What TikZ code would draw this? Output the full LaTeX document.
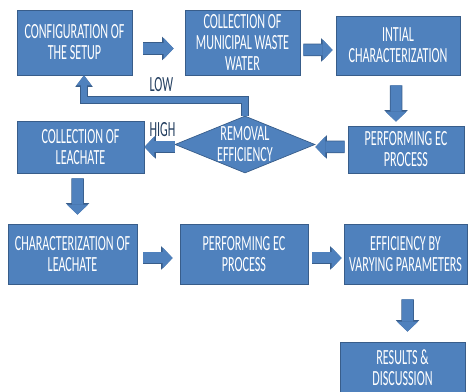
\documentclass[tikz,border=0pt]{standalone}
\usepackage{fontspec}
\newfontfamily\flowfont[FakeStretch=0.56]{Carlito}
\usetikzlibrary{arrows.meta, positioning, shapes.geometric}
\definecolor{boxfill}{HTML}{4F81BD}
\definecolor{boxedge}{HTML}{385D8A}
\definecolor{labeltext}{HTML}{243F60}

\begin{document}
\begin{tikzpicture}[thick, node distance=2cm]

		% Define block styles
		\tikzstyle{block} = [rectangle, draw=boxedge, line width=0.8pt, fill=boxfill, text=white, inner sep=1pt, align=center, font=\flowfont\fontsize{24.6pt}{23.8pt}\selectfont]
		\tikzstyle{decision} = [diamond, aspect=2.46, draw=boxedge, line width=0.8pt, fill=boxfill, text=white, inner sep=-2pt, align=center, minimum width=5.6cm, minimum height=2.28cm, font=\flowfont\fontsize{24.6pt}{23.8pt}\selectfont]
		\tikzstyle{flow} = [line width=0.44cm, draw=boxfill, -{Triangle[length=0.4cm, width=0.84cm, line width=0pt]}, preaction={draw=boxedge, line width=0.5cm, -{Triangle[length=0.46cm, width=0.94cm, line width=0pt]}}]
		\tikzstyle{backflow} = [line width=0.24cm, draw=boxfill, -{Triangle[length=0.4cm, width=0.6cm, line width=0pt]}, preaction={draw=boxedge, line width=0.3cm, -{Triangle[length=0.46cm, width=0.7cm, line width=0pt]}}]
		\tikzstyle{branch} = [text=labeltext, inner sep=0pt, font=\flowfont\fontsize{24.6pt}{23.8pt}\selectfont]

		\useasboundingbox (0,0) rectangle (18.72,-15.68);

		% Nodes
		\node[block, minimum width=4.6cm, minimum height=2.6cm] (setup) at (2.98,-1.70) {CONFIGURATION OF\\THE SETUP};
		\node[block, minimum width=4.6cm, minimum height=2.6cm, right of=setup, node distance=6.72cm] (municipal) {COLLECTION OF\\MUNICIPAL WASTE\\WATER};
		\node[block, minimum width=4.96cm, minimum height=2.36cm, right of=municipal, node distance=6.22cm, yshift=-0.12cm] (initial) {INTIAL\\CHARACTERIZATION};
		\node[block, minimum width=4.64cm, minimum height=1.88cm, below of=initial, node distance=4.16cm, xshift=0.32cm] (ecfirst) {PERFORMING EC\\PROCESS};
		\node[decision, left of=ecfirst, node distance=6.44cm, yshift=0.2cm] (removal) {REMOVAL\\EFFICIENCY};
		\node[block, minimum width=5.08cm, minimum height=2.08cm, left of=removal, node distance=6.58cm, yshift=-0.1cm] (leachate) {COLLECTION OF\\LEACHATE};
		\node[block, minimum width=5.16cm, minimum height=2.4cm, below of=leachate, node distance=4.28cm, xshift=-0.32cm] (charleach) {CHARACTERIZATION OF\\LEACHATE};
		\node[block, minimum width=5.12cm, minimum height=2.4cm, right of=charleach, node distance=6.86cm] (ecsecond) {PERFORMING EC\\PROCESS};
		\node[block, minimum width=4.92cm, minimum height=2.4cm, right of=ecsecond, node distance=6.46cm] (varying) {EFFICIENCY BY\\VARYING PARAMETERS};
		\node[block, minimum width=5cm, minimum height=2.08cm, below of=varying, node distance=4.56cm, xshift=-0.12cm] (results) {RESULTS \&\\DISCUSSION};

		% Arrows
		\draw[flow, shorten <=0.44cm, shorten >=0.44cm] ([yshift=-0.24cm]setup.east) -- ([yshift=-0.24cm]municipal.west);
		\draw[flow, shorten <=0.12cm, shorten >=0.12cm] ([yshift=-0.3cm]municipal.east) -- ([yshift=-0.18cm]initial.west);
		\draw[flow, shorten <=0.4cm, shorten >=0.16cm] ([xshift=-0.08cm]initial.south) -- ([xshift=-0.4cm]ecfirst.north);
		\draw[flow, shorten <=0.12cm] ([yshift=0.1cm]ecfirst.west) -- ([yshift=-0.1cm]removal.east);
		\draw[flow] ([yshift=-0.1cm]removal.west) -- node[branch, pos=0.4, above=0.2cm] {HIGH} (leachate.east);
		\draw[backflow] (removal.north) -- ++(0,0.62) -| node[branch, pos=0.26, above=0.22cm] {LOW} ([xshift=0.38cm]setup.south);
		\draw[flow, shorten <=0.2cm, shorten >=0.36cm] ([xshift=-0.12cm]leachate.south) -- ([xshift=0.2cm]charleach.north);
		\draw[flow, shorten <=0.24cm, shorten >=0.28cm] ([yshift=-0.16cm]charleach.east) -- ([yshift=-0.16cm]ecsecond.west);
		\draw[flow, shorten <=0.16cm, shorten >=0.08cm] ([yshift=-0.16cm]ecsecond.east) -- ([yshift=-0.16cm]varying.west);
		\draw[flow, shorten <=0.6cm, shorten >=0.4cm] ([xshift=0.08cm]varying.south) -- ([xshift=0.2cm]results.north);

\end{tikzpicture}
\end{document}
